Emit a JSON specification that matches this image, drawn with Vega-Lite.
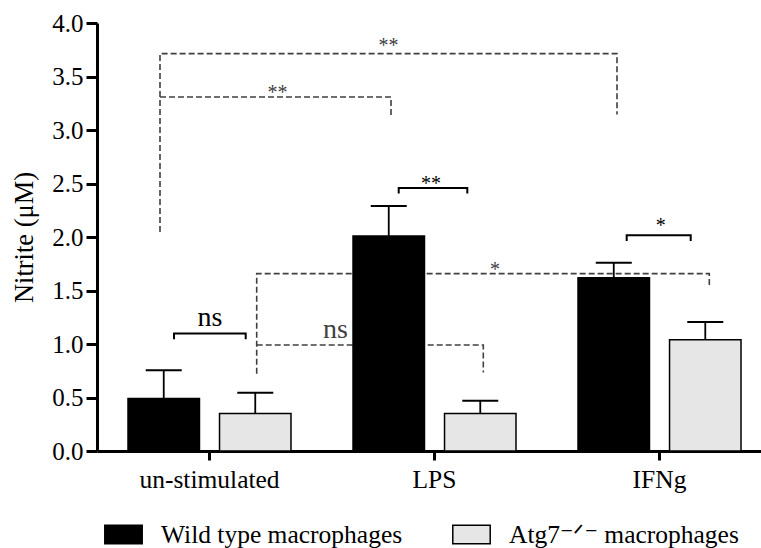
{
  "$schema": "https://vega.github.io/schema/vega-lite/v6.json",
  "width": 664,
  "height": 428,
  "autosize": {"type": "none"},
  "padding": {"left": 97, "top": 23, "right": 0, "bottom": 97},
  "background": "white",
  "config": {
    "view": {"stroke": null},
    "font": "Liberation Serif, Times New Roman, DejaVu Serif, serif",
    "axisY": {
      "values": [0, 0.5, 1, 1.5, 2, 2.5, 3, 3.5, 4],
      "format": ".1f",
      "grid": false,
      "labelFont": "Liberation Serif, Times New Roman, DejaVu Serif, serif",
      "labelFontSize": 25,
      "labelColor": "black",
      "labelPadding": 3,
      "tickSize": 11,
      "tickWidth": 3,
      "tickColor": "black",
      "domainWidth": 3,
      "domainColor": "black",
      "titleFont": "Liberation Serif, Times New Roman, DejaVu Serif, serif",
      "titleFontSize": 26.5,
      "titleFontWeight": "normal",
      "titleColor": "black",
      "titlePadding": 13
    },
    "axisX": {
      "title": null,
      "labelAngle": 0,
      "labelFont": "Liberation Serif, Times New Roman, DejaVu Serif, serif",
      "labelFontSize": 25.5,
      "labelColor": "black",
      "labelPadding": 7,
      "tickSize": 9,
      "tickWidth": 3,
      "tickColor": "black",
      "domainWidth": 3,
      "domainColor": "black",
      "grid": false
    }
  },
  "datasets": {
    "nitrite": [
      {"treatment": "un-stimulated", "genotype": "Wild type", "mean": 0.49, "upper": 0.755},
      {"treatment": "un-stimulated", "genotype": "Atg7⁻ᐟ⁻", "mean": 0.35, "upper": 0.545},
      {"treatment": "LPS", "genotype": "Wild type", "mean": 2.01, "upper": 2.29},
      {"treatment": "LPS", "genotype": "Atg7⁻ᐟ⁻", "mean": 0.35, "upper": 0.47},
      {"treatment": "IFNg", "genotype": "Wild type", "mean": 1.62, "upper": 1.76},
      {"treatment": "IFNg", "genotype": "Atg7⁻ᐟ⁻", "mean": 1.04, "upper": 1.205}
    ],
    "brackets": [
      {"id": "wt-unstim-vs-wt-ifng", "scope": "across", "k": 1, "u": 0.28, "v": 2.047},
      {"id": "wt-unstim-vs-wt-ifng", "scope": "across", "k": 2, "u": 0.28, "v": 3.714},
      {"id": "wt-unstim-vs-wt-ifng", "scope": "across", "k": 3, "u": 2.3111, "v": 3.714},
      {"id": "wt-unstim-vs-wt-ifng", "scope": "across", "k": 4, "u": 2.3111, "v": 3.144},
      {"id": "wt-unstim-vs-wt-lps", "scope": "across", "k": 1, "u": 0.28, "v": 3.309},
      {"id": "wt-unstim-vs-wt-lps", "scope": "across", "k": 2, "u": 1.3067, "v": 3.309},
      {"id": "wt-unstim-vs-wt-lps", "scope": "across", "k": 3, "u": 1.3067, "v": 3.128},
      {"id": "ko-unstim-vs-ko-ifng", "scope": "across", "k": 1, "u": 0.7098, "v": 0.723},
      {"id": "ko-unstim-vs-ko-ifng", "scope": "across", "k": 2, "u": 0.7098, "v": 1.658},
      {"id": "ko-unstim-vs-ko-ifng", "scope": "across", "k": 3, "u": 2.7213, "v": 1.658},
      {"id": "ko-unstim-vs-ko-ifng", "scope": "across", "k": 4, "u": 2.7213, "v": 1.533},
      {"id": "ko-unstim-vs-ko-lps", "scope": "across", "k": 1, "u": 0.7098, "v": 0.99},
      {"id": "ko-unstim-vs-ko-lps", "scope": "across", "k": 2, "u": 1.7169, "v": 0.99},
      {"id": "ko-unstim-vs-ko-lps", "scope": "across", "k": 3, "u": 1.7169, "v": 0.733},
      {"id": "unstim-wt-vs-ko", "scope": "within", "k": 1, "u": 0.3422, "v": 1.044},
      {"id": "unstim-wt-vs-ko", "scope": "within", "k": 2, "u": 0.3422, "v": 1.097},
      {"id": "unstim-wt-vs-ko", "scope": "within", "k": 3, "u": 0.6609, "v": 1.097},
      {"id": "unstim-wt-vs-ko", "scope": "within", "k": 4, "u": 0.6609, "v": 1.044},
      {"id": "lps-wt-vs-ko", "scope": "within", "k": 1, "u": 1.3409, "v": 2.406},
      {"id": "lps-wt-vs-ko", "scope": "within", "k": 2, "u": 1.3409, "v": 2.458},
      {"id": "lps-wt-vs-ko", "scope": "within", "k": 3, "u": 1.6458, "v": 2.458},
      {"id": "lps-wt-vs-ko", "scope": "within", "k": 4, "u": 1.6458, "v": 2.406},
      {"id": "ifng-wt-vs-ko", "scope": "within", "k": 1, "u": 2.3542, "v": 1.963},
      {"id": "ifng-wt-vs-ko", "scope": "within", "k": 2, "u": 2.3542, "v": 2.016},
      {"id": "ifng-wt-vs-ko", "scope": "within", "k": 3, "u": 2.6387, "v": 2.016},
      {"id": "ifng-wt-vs-ko", "scope": "within", "k": 4, "u": 2.6387, "v": 1.963}
    ],
    "significance": [
      {"label": "**", "scope": "across", "u": 1.2956, "v": 3.73},
      {"label": "**", "scope": "across", "u": 0.8022, "v": 3.291},
      {"label": "*", "scope": "across", "u": 1.7689, "v": 1.636},
      {"label": "ns", "scope": "across", "u": 1.06, "v": 1.06},
      {"label": "ns", "scope": "within", "u": 0.5022, "v": 1.165},
      {"label": "**", "scope": "within", "u": 1.484, "v": 2.436},
      {"label": "*", "scope": "within", "u": 2.505, "v": 2.048}
    ]
  },
  "layer": [
    {
      "data": {"name": "brackets"},
      "transform": [{"filter": "datum.scope == 'across'"}],
      "mark": {"type": "line", "stroke": "#404040", "strokeWidth": 1.6, "strokeDash": [6, 3]},
      "encoding": {
        "x": {"field": "u", "type": "quantitative", "scale": {"domain": [0, 2.9511], "nice": false, "zero": false}, "axis": null},
        "y": {"field": "v", "type": "quantitative", "title": "Nitrite (μM)", "scale": {"domain": [0, 4], "nice": false}},
        "detail": {"field": "id"},
        "order": {"field": "k", "type": "quantitative"}
      }
    },
    {
      "data": {"name": "nitrite"},
      "encoding": {
        "x": {
          "field": "treatment",
          "type": "nominal",
          "sort": ["un-stimulated", "LPS", "IFNg"],
          "scale": {"type": "band", "paddingInner": 0.2756, "paddingOuter": 0.1133, "align": 0.608},
          "title": null
        },
        "xOffset": {
          "field": "genotype",
          "type": "nominal",
          "sort": ["Wild type", "Atg7⁻ᐟ⁻"],
          "scale": {"paddingInner": 0.219, "paddingOuter": 0}
        }
      },
      "layer": [
        {
          "mark": {"type": "bar", "stroke": "black", "strokeWidth": 1.5},
          "encoding": {
            "y": {"field": "mean", "type": "quantitative", "title": "Nitrite (μM)"},
            "fill": {
              "field": "genotype",
              "type": "nominal",
              "sort": ["Wild type", "Atg7⁻ᐟ⁻"],
              "scale": {"domain": ["Wild type", "Atg7⁻ᐟ⁻"], "range": ["black", "#e6e6e6"]},
              "legend": {
                "orient": "none",
                "legendX": 7,
                "legendY": 492,
                "direction": "horizontal",
                "title": null,
                "padding": 0,
                "symbolType": "M-1,-0.5H1V0.5H-1Z",
                "symbolSize": 1400,
                "symbolStrokeColor": "black",
                "symbolStrokeWidth": 1.5,
                "symbolOpacity": 1,
                "labelFont": "Liberation Serif, Times New Roman, DejaVu Serif, serif",
                "labelFontSize": 25.5,
                "labelColor": "black",
                "labelOffset": 18,
                "labelLimit": 400,
                "columnPadding": 46,
                "labelExpr": "datum.label + ' macrophages'"
              }
            }
          }
        },
        {
          "mark": {"type": "rule", "color": "black", "strokeWidth": 1.8},
          "encoding": {
            "y": {"field": "mean", "type": "quantitative", "title": "Nitrite (μM)"},
            "y2": {"field": "upper"}
          }
        },
        {
          "mark": {"type": "tick", "color": "black", "size": 36, "thickness": 2, "opacity": 1},
          "encoding": {
            "y": {"field": "upper", "type": "quantitative", "title": "Nitrite (μM)"}
          }
        }
      ]
    },
    {
      "layer": [
        {
          "data": {"name": "brackets"},
          "transform": [{"filter": "datum.scope == 'within'"}],
          "mark": {"type": "line", "stroke": "black", "strokeWidth": 2},
          "encoding": {
            "x": {"field": "u", "type": "quantitative", "scale": {"domain": [0, 2.9511], "nice": false, "zero": false}, "axis": null},
            "y": {"field": "v", "type": "quantitative", "title": "Nitrite (μM)"},
            "detail": {"field": "id"},
            "order": {"field": "k", "type": "quantitative"}
          }
        },
        {
          "data": {"name": "significance"},
          "mark": {"type": "text", "font": "Liberation Serif, Times New Roman, DejaVu Serif, serif", "align": "center", "baseline": "alphabetic"},
          "encoding": {
            "x": {"field": "u", "type": "quantitative", "scale": {"domain": [0, 2.9511], "nice": false, "zero": false}, "axis": null},
            "y": {"field": "v", "type": "quantitative", "title": "Nitrite (μM)"},
            "text": {"field": "label"},
            "color": {"condition": {"test": "datum.scope == 'across'", "value": "#404040"}, "value": "black"},
            "size": {"condition": {"test": "datum.label == 'ns'", "value": 28}, "value": 20}
          }
        }
      ]
    }
  ],
  "resolve": {"scale": {"x": "independent"}}
}
